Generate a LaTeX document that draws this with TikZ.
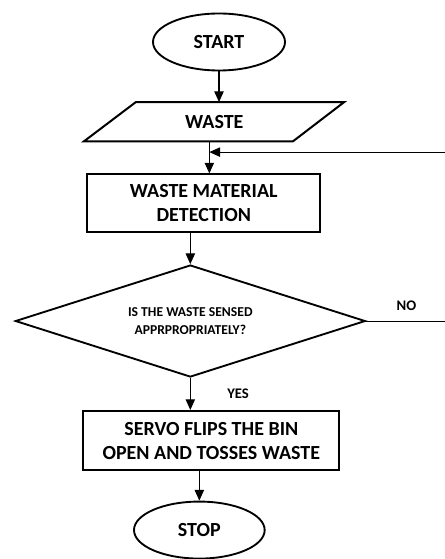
\documentclass[tikz,border=0pt]{standalone}
\usepackage{fontspec}
\setmainfont{Carlito}
\usetikzlibrary{positioning, arrows.meta, shapes.geometric}

\begin{document}
\begin{tikzpicture}[node distance=23pt, >={Triangle[length=8pt,width=7pt]}, font=\bfseries,
      term/.style={draw, line width=1.4pt, ellipse, minimum width=99pt, minimum height=42.75pt, inner sep=0pt, font=\bfseries\fontsize{15}{18}\selectfont},
      proc/.style={draw, line width=1.5pt, rectangle, align=center, inner sep=0pt, font=\bfseries\fontsize{15}{18}\selectfont},
      flow/.style={->, line width=0.8pt},
      tag/.style={font=\bfseries\fontsize{11}{13}\selectfont}]
    \useasboundingbox (0,0) rectangle (333pt,-419.25pt);

    \node[term] (start) at (164.25pt,-31.5pt) {START};
    \node[proc, draw=none, minimum width=116.25pt, minimum height=28pt, below=of start, xshift=-3.5pt] (waste) {WASTE};
    \draw[line width=1.5pt] ([xshift=-39pt]waste.south west) -- (waste.north west)
        -- ([xshift=38.5pt]waste.north east) -- (waste.south east) -- cycle;
    \node[proc, minimum width=174.75pt, minimum height=43.5pt, below=24pt of waste, xshift=-7.9pt] (detect)
          {WASTE MATERIAL\\DETECTION};
    \node[draw, line width=1.4pt, diamond, aspect=3.125, minimum width=262.5pt, minimum height=84pt, inner sep=0pt,
          align=center, font=\bfseries\fontsize{10.2}{13.5}\selectfont, below=of detect, xshift=-10.1pt] (sensed)
          {IS THE WASTE SENSED\\APPRPROPRIATELY?};
    \node[proc, minimum width=192pt, minimum height=44.5pt, below=24pt of sensed, xshift=15.75pt] (servo)
          {SERVO FLIPS THE BIN\\OPEN AND TOSSES WASTE};
    \node[term, minimum width=98pt, below=22pt of servo, xshift=-9pt] (stop) {STOP};

    \coordinate[below=8pt of waste.south, xshift=-3.75pt] (back);
    \draw[flow] (start.south) -- (start.south |- waste.north);
    \draw[flow] (back |- waste.south) -- (back |- detect.north);
    \draw[flow] (detect.south -| sensed.north) -- (sensed.north);
    \draw[flow] (sensed.south) -- node[pos=0.5, right=24pt, tag] {YES} (sensed.south |- servo.north);
    \draw[flow] (servo.south -| stop.north) -- (stop.north);

    \draw[flow] (sensed.east) -- node[pos=0.43, above=4pt, tag] {NO} ++(70pt,0) |- (back);
\end{tikzpicture}
\end{document}
